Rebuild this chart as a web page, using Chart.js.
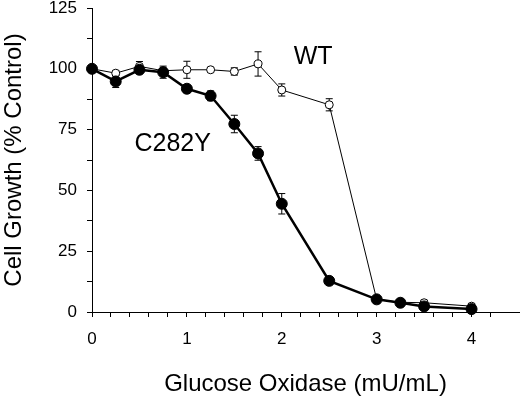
<!DOCTYPE html>
<html>
<head>
<meta charset="utf-8">
<script src="https://cdn.jsdelivr.net/npm/chart.js@4/dist/chart.umd.min.js"></script>
<style>
  html, body { margin: 0; padding: 0; background: #fff; }
  #wrap { width: 520px; height: 399px; }
</style>
</head>
<body>
<div id="wrap"><canvas id="growth_chart"></canvas></div>
<script>
// glucose oxidase dose (mU/mL)
const doses = [0, 0.25, 0.5, 0.75, 1, 1.25, 1.5, 1.75, 2, 2.5, 3, 3.25, 3.5, 4];
const wtGrowth = [100, 98.2, 101, 99.2, 99.6, 99.6, 98.9, 102, 91.3, 85.2, 5.2, 4.0, 3.8, 2.4];
const wtError = [0, 1, 2, 1, 3.5, 0.8, 1.5, 5, 2.5, 2.5, 0.8, 0.8, 1, 1];
const mutGrowth = [100, 94.8, 99.6, 98.6, 91.8, 88.9, 77.3, 65.2, 44.5, 12.8, 5.2, 3.8, 2.3, 1.2];
const mutError = [0, 2.5, 1, 2.5, 1.5, 2, 3.6, 2.8, 4.2, 0.8, 0.8, 0.8, 0.8, 1];
const labels = [
  { text: "WT", x: 2.33, y: 104.7 },
  { text: "C282Y", x: 0.85, y: 69.1 },
];

const FONT = "'Liberation Sans', Arial, sans-serif";

const errorBars = {
  id: "errorBars",
  beforeDatasetsDraw(chart) {
    const ctx = chart.ctx;
    const xs = chart.scales.x;
    const ys = chart.scales.y;
    ctx.save();
    ctx.strokeStyle = "#000";
    ctx.lineWidth = 1;
    chart.data.datasets.forEach((ds) => {
      const errs = ds.label === "WT" ? wtError : mutError;
      ds.data.forEach((p, i) => {
        const e = errs[i];
        if (!e) return;
        const px = xs.getPixelForValue(p.x);
        const top = ys.getPixelForValue(p.y + e);
        const bot = ys.getPixelForValue(p.y - e);
        ctx.beginPath();
        ctx.moveTo(px, top);
        ctx.lineTo(px, bot);
        ctx.moveTo(px - 3.5, top);
        ctx.lineTo(px + 3.5, top);
        ctx.moveTo(px - 3.5, bot);
        ctx.lineTo(px + 3.5, bot);
        ctx.stroke();
      });
    });
    ctx.restore();
  },
  afterDatasetsDraw(chart) {
    const ctx = chart.ctx;
    ctx.save();
    ctx.fillStyle = "#000";
    ctx.font = "25px " + FONT;
    ctx.textAlign = "center";
    ctx.textBaseline = "middle";
    labels.forEach((l) => {
      ctx.fillText(l.text, chart.scales.x.getPixelForValue(l.x), chart.scales.y.getPixelForValue(l.y));
    });
    ctx.restore();
  },
};

const ctx = document.getElementById("growth_chart");
new Chart(ctx, {
  type: "line",
  data: {
    datasets: [
      {
        label: "C282Y",
        data: doses.map((x, i) => ({ x: x, y: mutGrowth[i] })),
        borderColor: "#000",
        borderWidth: 2.5,
        backgroundColor: "#000",
        pointBackgroundColor: "#000",
        pointBorderColor: "#000",
        pointRadius: 5.5,
        pointBorderWidth: 1,
        tension: 0,
        clip: false,
        order: 1,
      },
      {
        label: "WT",
        data: doses.map((x, i) => ({ x: x, y: wtGrowth[i] })),
        borderColor: "#000",
        borderWidth: 1,
        backgroundColor: "#fff",
        pointBackgroundColor: "#fff",
        pointBorderColor: "#000",
        pointRadius: 4,
        pointBorderWidth: 1,
        tension: 0,
        clip: false,
        order: 2,
      },
    ],
  },
  options: {
    responsive: true,
    maintainAspectRatio: false,
    animation: false,
    layout: { autoPadding: false, padding: { top: 8, right: 1, left: 0, bottom: 0 } },
    plugins: {
      legend: { display: false },
      tooltip: { enabled: false },
    },
    scales: {
      x: {
        type: "linear",
        min: 0,
        max: 4.5,
        afterBuildTicks: function (scale) {
          scale.ticks = scale.ticks.filter((t) => t.value <= 4.41);
        },
        afterFit: function (scale) {
          scale.height = 87;
          scale.paddingLeft = 0;
          scale.paddingRight = 0;
        },
        ticks: {
          stepSize: 0.2,
          autoSkip: false,
          maxRotation: 0,
          color: "#000",
          padding: 12,
          font: { family: FONT, size: 17 },
          callback: function (value) {
            return Math.abs(value - Math.round(value)) < 1e-6 ? Math.round(value) : "";
          },
        },
        grid: { drawOnChartArea: false, drawTicks: true, tickLength: 5, color: "#000" },
        border: { color: "#000", width: 1 },
        title: {
          display: true,
          text: "Glucose Oxidase (mU/mL)",
          color: "#000",
          font: { family: FONT, size: 24 },
          padding: { top: 0, bottom: 0 },
        },
      },
      y: {
        min: 0,
        max: 125,
        afterFit: function (scale) {
          scale.width = 92;
          scale.paddingTop = 0;
          scale.paddingBottom = 0;
        },
        ticks: {
          stepSize: 12.5,
          autoSkip: false,
          color: "#000",
          padding: 10,
          font: { family: FONT, size: 17 },
          callback: function (value) {
            return value % 25 === 0 ? value : "";
          },
        },
        grid: { drawOnChartArea: false, drawTicks: true, tickLength: 5, color: "#000" },
        border: { color: "#000", width: 1 },
        title: {
          display: true,
          text: "Cell Growth (% Control)",
          color: "#000",
          font: { family: FONT, size: 24 },
          padding: { top: 0, bottom: 0 },
        },
      },
    },
  },
  plugins: [errorBars],
});
</script>
</body>
</html>
